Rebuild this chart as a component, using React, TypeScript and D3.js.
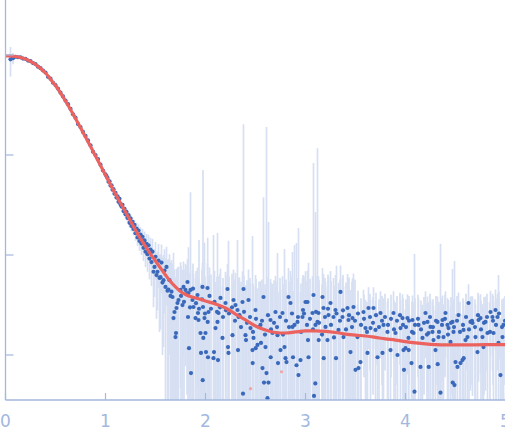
// Scattering profile: log intensity vs q, experimental points with error bars
// and the model fit on top. Plain JSX + d3 scales, no axis labels on y.
import * as d3 from "d3";

const W = 505;
const H = 438;

const xTicks = [0, 1, 2, 3, 4, 5];
const yTicks = [1, 10, 100, 1000];

// model fit [q, I]
const fitCurve: [number, number][] = [
  [0, 977], [0.05, 977], [0.1, 966], [0.15, 944], [0.2, 912], [0.25, 861], [0.3, 804],
  [0.35, 733], [0.4, 661], [0.45, 575], [0.5, 495], [0.55, 417], [0.6, 347], [0.65, 285],
  [0.7, 232], [0.75, 188], [0.8, 151], [0.85, 122], [0.9, 97.7], [0.95, 78.5], [1.0, 63.1],
  [1.05, 50.7], [1.1, 40.7], [1.15, 33.1], [1.2, 26.9], [1.25, 21.9], [1.3, 17.8],
  [1.35, 14.6], [1.4, 12.2], [1.45, 10.2], [1.5, 8.71], [1.55, 7.41], [1.6, 6.31],
  [1.65, 5.43], [1.7, 4.79], [1.75, 4.32], [1.8, 4.03], [1.85, 3.85], [1.9, 3.72],
  [1.95, 3.6], [2.0, 3.47], [2.1, 3.24], [2.2, 2.95], [2.3, 2.57], [2.4, 2.24], [2.5, 1.95],
  [2.6, 1.78], [2.7, 1.68], [2.8, 1.66], [2.9, 1.7], [3.0, 1.74], [3.1, 1.74], [3.2, 1.72],
  [3.3, 1.68], [3.4, 1.62], [3.5, 1.58], [3.6, 1.55], [3.7, 1.5], [3.8, 1.45], [3.9, 1.41],
  [4.0, 1.36], [4.1, 1.32], [4.2, 1.29], [4.3, 1.27], [4.4, 1.26], [4.6, 1.26], [4.8, 1.27],
  [5.0, 1.27],
];

// experimental points [q, I, err]
const lowQ: [number, number, number][] = [
  [0.05, 905, 300], [0.075, 930, 120], [0.1, 960, 50], [0.125, 950, 30], [0.15, 948, 22],
  [0.175, 922, 18], [0.2, 915, 16], [0.225, 880, 15], [0.25, 868, 14], [0.275, 830, 13],
  [0.3, 812, 12], [0.325, 765, 12], [0.35, 738, 11], [0.375, 700, 11], [0.4, 668, 10],
  [0.425, 605, 10], [0.45, 580, 9], [0.475, 528, 9], [0.5, 500, 8], [0.525, 462, 8],
  [0.55, 420, 7], [0.575, 385, 7], [0.6, 350, 6], [0.625, 322, 6], [0.65, 290, 5.5],
  [0.675, 255, 5], [0.7, 236, 4.5], [0.725, 204, 4.5], [0.75, 190, 4], [0.775, 170, 4],
  [0.8, 155, 3.5], [0.825, 140, 3.5], [0.85, 125, 3], [0.875, 108, 3], [0.9, 100, 2.5],
  [0.925, 91, 2.5], [0.95, 80, 2], [0.975, 70, 2], [1.0, 64, 1.5],
];

const midQ: [number, number, number][] = [
  [1.01, 61.5, 1.2], [1.02, 59.0, 1.2], [1.03, 54.0, 1.2], [1.04, 54.5, 1.3], [1.05, 49.5, 1.3],
  [1.06, 49.8, 1.3], [1.07, 45.0, 1.3], [1.08, 45.5, 1.4], [1.09, 41.0, 1.4], [1.1, 41.8, 1.5],
  [1.11, 37.5, 1.5], [1.12, 38.6, 1.5], [1.13, 34.0, 1.6], [1.14, 36.5, 1.6], [1.15, 32.0, 1.7],
  [1.16, 30.5, 1.7], [1.17, 31.8, 1.8], [1.18, 27.5, 1.8], [1.19, 29.0, 1.9], [1.2, 25.5, 2.0],
  [1.21, 27.0, 2.0], [1.22, 23.5, 2.1], [1.23, 25.0, 2.1], [1.24, 21.0, 2.2], [1.25, 23.2, 2.3],
  [1.26, 19.5, 2.3], [1.27, 21.5, 2.4], [1.28, 18.2, 2.4], [1.29, 20.0, 2.5], [1.3, 16.5, 2.6],
  [1.31, 18.4, 2.6], [1.32, 15.0, 2.7], [1.33, 17.5, 2.8], [1.34, 13.8, 2.8], [1.35, 16.0, 2.9],
  [1.36, 13.0, 3.0], [1.37, 15.2, 3.0], [1.38, 11.8, 3.1], [1.39, 14.0, 3.2], [1.4, 10.8, 3.2],
  [1.41, 12.9, 3.3], [1.42, 10.2, 3.4], [1.43, 12.5, 3.4], [1.44, 9.2, 3.5], [1.45, 11.3, 3.6],
  [1.46, 8.5, 3.6], [1.47, 10.8, 3.7], [1.48, 6.8, 3.8], [1.49, 7.6, 3.8], [1.5, 9.6, 3.9],
  [1.51, 6.3, 4.0], [1.52, 6.8, 4.0], [1.53, 8.8, 4.1], [1.54, 5.9, 4.2], [1.55, 6.0, 4.2],
  [1.56, 8.4, 4.3], [1.57, 5.3, 4.3], [1.58, 5.6, 4.4], [1.59, 7.0, 4.4], [1.6, 4.8, 4.5],
  [1.61, 7.6, 4.5], [1.62, 4.4, 4.5], [1.63, 4.5, 4.6], [1.64, 5.6, 4.6], [1.65, 3.9, 4.6],
  [1.66, 4.3, 4.6],
];

const highQ: [number, number, number][] = [
  [1.67, 3.8, 4.4], [1.68, 2.34, 8.2], [1.69, 2.69, 4.5], [1.7, 1.51, 4.4], [1.705, 1.66, 4.3],
  [1.71, 2.95, 4.3], [1.72, 3.31, 4.2], [1.73, 3.55, 4.1], [1.75, 4.47, 4.0], [1.755, 3.9, 3.9],
  [1.77, 3.16, 3.9], [1.78, 4.79, 3.8], [1.785, 3.4, 3.8], [1.8, 4.47, 3.7], [1.815, 4.1, 3.7],
  [1.82, 5.37, 3.7], [1.825, 2.4, 3.6], [1.83, 4.17, 7.8], [1.835, 1.17, 3.6], [1.845, 3.0, 3.6],
  [1.85, 4.47, 38], [1.855, 0.66, 3.6], [1.87, 3.55, 3.5], [1.875, 4.6, 3.6], [1.88, 3.02, 3.5],
  [1.9, 2.34, 3.5], [1.905, 3.3, 3.6], [1.92, 3.98, 3.5], [1.925, 2.63, 3.4], [1.93, 2.24, 3.5],
  [1.935, 2.9, 11.2], [1.95, 1.66, 3.5], [1.955, 1.05, 3.4], [1.965, 3.6, 3.5], [1.97, 4.79, 3.6],
  [1.972, 0.56, 3.4], [1.975, 3.02, 67.8], [1.978, 1.48, 3.5], [1.99, 2.34, 10.9], [1.995, 2.6, 3.5],
  [2.0, 1.66, 3.5], [2.005, 1.07, 3.4], [2.02, 4.68, 3.6], [2.022, 2.14, 12.7], [2.025, 0.95, 3.5],
  [2.03, 2.69, 3.5], [2.04, 3.9, 3.6], [2.055, 2.9, 3.5], [2.08, 0.93, 14.9], [2.085, 1.07, 3.5],
  [2.09, 3.4, 3.5], [2.1, 1.86, 3.5], [2.115, 2.7, 3.4], [2.12, 2.14, 14.5], [2.125, 0.89, 3.5],
  [2.13, 2.63, 3.5], [2.145, 3.0, 3.5], [2.15, 3.72, 3.6], [2.17, 1.48, 3.4], [2.175, 2.4, 3.5],
  [2.2, 3.31, 3.5], [2.205, 2.8, 3.5], [2.22, 4.57, 3.6], [2.225, 1.2, 3.4], [2.23, 1.05, 12.8],
  [2.235, 2.6, 3.5], [2.265, 3.0, 3.5], [2.27, 1.58, 3.4], [2.28, 3.55, 3.6], [2.295, 2.2, 3.5],
  [2.3, 3.16, 3.5], [2.32, 2.82, 11.3], [2.325, 1.12, 3.4], [2.33, 2.4, 3.5], [2.34, 2.5, 3.5],
  [2.355, 1.9, 3.5], [2.37, 3.39, 3.5], [2.375, 0.41, 3.4], [2.38, 4.57, 199], [2.385, 2.7, 3.5],
  [2.4, 1.58, 3.4], [2.405, 1.41, 3.4], [2.415, 2.1, 3.5], [2.43, 3.55, 3.6], [2.445, 2.4, 3.5],
  [2.45, 1.86, 3.4], [2.47, 1.12, 14.4], [2.472, 0.83, 3.4], [2.475, 1.7, 3.5], [2.48, 1.48, 3.4],
  [2.5, 2.82, 3.5], [2.502, 1.17, 3.4], [2.505, 2.3, 3.5], [2.52, 1.26, 3.4], [2.535, 1.9, 3.5],
  [2.55, 2.0, 3.5], [2.555, 1.32, 3.4], [2.565, 2.2, 3.5], [2.57, 0.74, 3.4], [2.58, 3.8, 34],
  [2.585, 0.53, 3.4], [2.595, 1.6, 3.5], [2.6, 1.2, 3.4], [2.61, 0.66, 190], [2.62, 0.37, 3.4],
  [2.625, 2.5, 3.5], [2.63, 0.53, 20.9], [2.65, 2.24, 3.5], [2.652, 0.95, 3.4], [2.655, 1.8, 3.5],
  [2.67, 1.66, 3.5], [2.685, 2.1, 3.5], [2.7, 2.69, 3.5], [2.715, 1.9, 3.5], [2.72, 1.58, 8.9],
  [2.725, 0.83, 3.4], [2.745, 2.4, 3.5], [2.75, 1.12, 3.4], [2.77, 2.63, 3.5], [2.775, 1.6, 3.5],
  [2.79, 1.2, 10.3], [2.8, 0.93, 3.4], [2.805, 2.2, 3.5], [2.81, 0.85, 3.4], [2.83, 3.8, 3.6],
  [2.835, 1.9, 3.5], [2.85, 3.31, 3.6], [2.865, 2.6, 3.5], [2.87, 1.91, 8.8], [2.875, 0.95, 3.4],
  [2.89, 2.0, 10.6], [2.91, 0.79, 12.4], [2.92, 2.14, 3.5], [2.925, 2.4, 3.5], [2.93, 0.63, 18.0],
  [2.95, 0.89, 3.4], [2.955, 1.7, 3.5], [2.97, 2.4, 3.5], [2.975, 2.82, 3.5], [2.985, 2.6, 3.5],
  [3.0, 3.39, 3.5], [3.015, 2.0, 3.5], [3.02, 3.39, 3.6], [3.025, 1.41, 3.4], [3.03, 0.95, 7.4],
  [3.045, 2.3, 3.5], [3.07, 2.63, 3.5], [3.075, 1.8, 3.5], [3.08, 3.98, 79], [3.085, 0.39, 3.4],
  [3.098, 0.52, 3.4], [3.1, 2.0, 24.9], [3.105, 2.7, 3.5], [3.12, 2.14, 115], [3.13, 2.63, 3.5],
  [3.132, 1.41, 3.4], [3.135, 2.1, 3.5], [3.165, 1.6, 3.5], [3.17, 3.8, 3.6], [3.18, 2.95, 3.5],
  [3.182, 0.93, 3.4], [3.195, 2.4, 3.5], [3.2, 1.91, 3.5], [3.22, 1.41, 3.4], [3.225, 2.9, 3.5],
  [3.23, 2.51, 3.5], [3.25, 3.31, 3.6], [3.255, 2.0, 3.5], [3.28, 2.4, 3.5], [3.285, 1.5, 3.4],
  [3.3, 2.82, 3.5], [3.305, 0.93, 3.4], [3.31, 2.6, 5.2], [3.33, 1.78, 3.5], [3.345, 2.2, 3.5],
  [3.35, 4.27, 3.6], [3.37, 2.4, 3.5], [3.375, 2.8, 3.5], [3.38, 1.51, 3.4], [3.405, 1.8, 3.5],
  [3.42, 2.95, 3.5], [3.43, 2.24, 3.5], [3.435, 2.5, 3.5], [3.45, 1.07, 3.4], [3.465, 1.9, 3.5],
  [3.47, 2.34, 3.5], [3.48, 3.02, 3.5], [3.495, 2.2, 3.5],
  [3.5, 0.71, 1.7], [3.52, 1.51, 1.7], [3.525, 2.6, 1.8], [3.53, 0.74, 1.7], [3.55, 0.85, 1.7],
  [3.555, 2.0, 1.7], [3.58, 2.69, 1.8], [3.585, 2.3, 1.7], [3.6, 1.86, 1.7], [3.615, 1.7, 1.7],
  [3.62, 1.05, 1.7], [3.63, 2.95, 1.8], [3.645, 2.4, 1.7], [3.65, 1.86, 1.7], [3.675, 2.1, 1.7],
  [3.68, 2.95, 1.8], [3.7, 1.78, 1.7], [3.705, 2.5, 1.7], [3.72, 0.95, 1.7], [3.735, 1.9, 1.7],
  [3.75, 2.63, 1.7], [3.765, 2.2, 1.7], [3.77, 1.05, 1.7], [3.78, 2.0, 1.7], [3.795, 2.4, 1.7],
  [3.82, 1.7, 1.7], [3.825, 2.0, 1.7], [3.85, 1.12, 1.7], [3.855, 2.3, 1.7], [3.88, 2.63, 1.7],
  [3.885, 1.8, 1.7], [3.9, 1.66, 1.7], [3.915, 2.2, 1.7], [3.92, 1.0, 1.7], [3.945, 2.5, 1.7],
  [3.95, 1.86, 1.7], [3.97, 2.34, 1.7], [3.975, 2.0, 1.7], [3.98, 1.12, 1.7], [3.985, 0.71, 1.7],
  [4.0, 1.17, 1.7], [4.005, 1.9, 1.7], [4.02, 2.34, 1.7], [4.03, 1.48, 1.7], [4.032, 1.12, 1.7],
  [4.035, 2.2, 1.7], [4.06, 0.83, 1.7], [4.065, 1.7, 1.7], [4.07, 2.24, 1.7], [4.08, 1.66, 1.7],
  [4.09, 0.43, 9.8], [4.095, 2.0, 1.7], [4.125, 2.3, 1.7], [4.13, 2.0, 1.7], [4.15, 0.76, 1.7],
  [4.155, 1.8, 1.7], [4.17, 1.48, 1.7], [4.185, 2.1, 1.7], [4.2, 2.63, 1.7], [4.215, 1.6, 1.7],
  [4.22, 2.14, 1.7], [4.23, 1.66, 1.7], [4.232, 0.76, 1.7], [4.245, 2.4, 1.7], [4.25, 1.91, 1.7],
  [4.27, 1.7, 1.7], [4.275, 1.9, 1.7], [4.28, 1.41, 1.7], [4.3, 1.12, 1.7], [4.305, 2.2, 1.7],
  [4.32, 2.14, 1.7], [4.322, 0.81, 1.7], [4.33, 1.51, 1.7], [4.335, 1.7, 1.7], [4.35, 0.42, 12.5],
  [4.365, 2.0, 1.7], [4.37, 2.24, 1.7], [4.38, 1.51, 1.7], [4.395, 2.3, 1.7], [4.4, 2.63, 1.7],
  [4.42, 2.0, 1.7], [4.425, 1.6, 1.7], [4.43, 1.86, 1.7], [4.45, 1.35, 1.7], [4.455, 2.1, 1.7],
  [4.47, 2.14, 5.1], [4.472, 0.53, 1.7], [4.48, 1.7, 1.7], [4.485, 1.9, 1.7], [4.49, 0.5, 8.2],
  [4.5, 0.85, 1.7], [4.515, 2.2, 1.7], [4.52, 0.76, 1.7], [4.53, 2.51, 1.7], [4.545, 1.7, 1.7],
  [4.55, 0.83, 1.7], [4.57, 0.89, 1.7], [4.575, 2.0, 1.7], [4.58, 1.78, 1.7], [4.582, 0.93, 1.7],
  [4.6, 1.41, 1.7], [4.605, 2.4, 1.7], [4.62, 1.51, 1.7], [4.63, 3.31, 1.8], [4.635, 1.8, 1.7],
  [4.65, 2.14, 1.7], [4.665, 2.2, 1.7], [4.67, 2.09, 1.7], [4.695, 1.9, 1.7], [4.7, 1.51, 1.7],
  [4.72, 1.07, 1.7], [4.725, 2.5, 1.7], [4.73, 2.24, 1.7], [4.75, 2.34, 1.7], [4.755, 1.8, 1.7],
  [4.77, 1.51, 1.7], [4.78, 1.2, 1.7], [4.785, 2.1, 1.7], [4.8, 2.14, 1.7], [4.815, 2.4, 1.7],
  [4.82, 1.66, 1.7], [4.845, 1.7, 1.7], [4.85, 2.69, 1.7], [4.87, 2.4, 1.7], [4.875, 2.2, 1.7],
  [4.88, 1.66, 1.7], [4.9, 2.82, 1.7], [4.905, 2.0, 1.7], [4.92, 2.4, 1.7], [4.93, 1.32, 5.0],
  [4.935, 2.6, 1.7], [4.95, 0.63, 1.7], [4.965, 1.9, 1.7], [4.97, 1.51, 1.7], [4.98, 2.0, 1.7],
  [4.995, 2.2, 1.7],
];

// points flagged as outliers [q, I]
const flagged: [number, number][] = [
  [2.45, 0.46],
  [2.76, 0.68],
];

const AXIS = "#a3b8de";
const BAR = "#d6e0f2";
const DOT = "#3a68ba";
const FIT = "#eb625e";

export default function App() {
  const x = d3.scaleLinear().domain([0, 5]).range([5.5, 505.5]);
  const y = d3.scaleLog().domain([10 ** -0.45, 10 ** 3.55]).range([400, 0]);
  const [yLow] = y.domain();
  const plotBottom = y.range()[0];

  const points = [...lowQ, ...midQ, ...highQ];
  const fitPath =
    d3
      .line<[number, number]>()
      .x((d) => x(d[0]))
      .y((d) => y(d[1]))
      .curve(d3.curveMonotoneX)(fitCurve) ?? "";

  return (
    <>
      <style>{"body{margin:0}"}</style>
      <svg width={W} height={H} style={{ display: "block", background: "#fff" }}>
        <defs>
          <clipPath id="plot">
            <rect x={x(0)} y={0} width={W - x(0)} height={plotBottom} />
          </clipPath>
        </defs>

        <g clipPath="url(#plot)">
          {/* error bars */}
          {points.map(([q, v, e], i) => {
            const lo = v - e;
            return (
              <line
                key={`e${i}`}
                x1={x(q)}
                x2={x(q)}
                y1={y(v + e)}
                y2={lo > yLow ? y(lo) : plotBottom + 2}
                stroke={BAR}
                strokeWidth={1.7}
              />
            );
          })}
          {/* points */}
          {points
            .filter((d) => d[1] > yLow)
            .map(([q, v], i) => (
              <circle key={`p${i}`} cx={x(q)} cy={y(v)} r={2.1} fill={DOT} />
            ))}
          {flagged.map(([q, v], i) => (
            <circle key={`f${i}`} cx={x(q)} cy={y(v)} r={1.6} fill="#f2a2a2" />
          ))}
          {/* fit */}
          <path d={fitPath} fill="none" stroke={FIT} strokeWidth={3.2} strokeLinejoin="round" />
        </g>

        {/* y axis */}
        <line x1={x(0)} x2={x(0)} y1={0} y2={plotBottom} stroke={AXIS} strokeWidth={1.3} />
        {yTicks.map((t) => (
          <line key={`yt${t}`} x1={x(0)} x2={x(0) + 8} y1={y(t)} y2={y(t)} stroke={AXIS} strokeWidth={1.2} />
        ))}

        {/* x axis */}
        <line x1={x(0)} x2={W} y1={plotBottom} y2={plotBottom} stroke={AXIS} strokeWidth={1.3} />
        {xTicks.map((t) => (
          <g key={`xt${t}`}>
            <line x1={x(t)} x2={x(t)} y1={plotBottom} y2={plotBottom - 7} stroke={AXIS} strokeWidth={1.2} />
            <text
              x={x(t)}
              y={427}
              textAnchor="middle"
              fill={AXIS}
              fontFamily="'DejaVu Sans', sans-serif"
              fontSize={17}
            >
              {t}
            </text>
          </g>
        ))}
      </svg>
    </>
  );
}
